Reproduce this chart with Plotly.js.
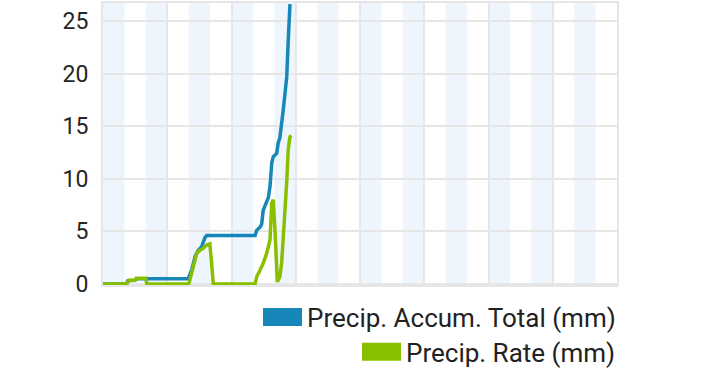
<!DOCTYPE html>
<html>
<head>
<meta charset="utf-8">
<script src="https://cdn.plot.ly/plotly-3.0.1.min.js"></script>
<style>
  html, body { margin: 0; padding: 0; background: #ffffff; }
  #chart { width: 720px; height: 368px; }
</style>
</head>
<body>
<div id="chart"></div>
<script>
// ---- data (hours of the day, mm) ----
var accumHours = [0, 1.1, 1.15, 1.5, 1.6, 3.98, 4.14, 4.3, 4.45, 4.6, 4.76, 4.84, 7.1, 7.18, 7.33, 7.41, 7.48, 7.64, 7.72, 7.8, 7.88, 7.95, 8.11, 8.18, 8.26, 8.42, 8.58, 8.65, 8.73];
var accumTotal = [0, 0, 0.3, 0.35, 0.5, 0.5, 1.3, 2.6, 3.2, 3.5, 4.4, 4.6, 4.6, 5.1, 5.4, 5.7, 7.0, 7.7, 8.2, 9.3, 11.5, 12.1, 12.4, 13.4, 13.9, 16.6, 19.7, 23.2, 26.6];

var rateHours = [0, 1.1, 1.2, 1.5, 1.55, 2.0, 2.04, 4.0, 4.06, 4.22, 4.38, 4.53, 4.69, 4.84, 4.99, 5.07, 5.15, 7.1, 7.18, 7.33, 7.48, 7.64, 7.8, 7.88, 7.95, 8.03, 8.11, 8.14, 8.26, 8.34, 8.42, 8.5, 8.58, 8.65, 8.73, 8.8];
var precipRate = [0, 0, 0.35, 0.35, 0.55, 0.55, 0, 0, 0.4, 1.65, 2.95, 3.2, 3.4, 3.7, 3.8, 2.0, 0, 0, 0.7, 1.3, 1.95, 2.9, 4.2, 7.7, 8.0, 5.1, 2.0, 0.2, 0.7, 2.0, 4.5, 6.7, 9.8, 12.8, 14.0, 14.1];

var seriesNames = ["Precip. Accum. Total (mm)", "Precip. Rate (mm)"];
var yTicks = [0, 5, 10, 15, 20, 25];
var xGridHours = [0, 3, 6, 9, 12, 15, 18, 21, 24];
var bandStarts = [0, 2, 4, 6, 8, 10, 12, 14, 16, 18, 20, 22];
var bandLength = 1;

var blue = "#1786b8";
var green = "#88c000";

var shapes = bandStarts.map(function (s) {
  return {
    type: "rect", xref: "x", yref: "paper", layer: "below",
    x0: s, x1: s + bandLength, y0: 0, y1: 1,
    fillcolor: "#eef5fc", line: { width: 0 }
  };
});

var traces = [
  {
    x: accumHours, y: accumTotal, type: "scatter", mode: "lines",
    name: seriesNames[0], legend: "legend",
    line: { color: blue, width: 3.5 }
  },
  {
    x: rateHours, y: precipRate, type: "scatter", mode: "lines",
    name: seriesNames[1], legend: "legend2",
    line: { color: green, width: 3.5 }
  }
];

var legendFont = { family: "Roboto, sans-serif", size: 26, color: "#222222" };

var layout = {
  width: 720, height: 368,
  margin: { l: 103, r: 103, t: 3, b: 83, autoexpand: false },
  paper_bgcolor: "#ffffff",
  plot_bgcolor: "rgba(0,0,0,0)",
  font: { family: "Roboto, sans-serif", color: "#333333" },
  showlegend: true,
  xaxis: {
    range: [0, 24],
    tickvals: xGridHours,
    showticklabels: false,
    showgrid: true, gridcolor: "#e6e6e6", gridwidth: 2,
    zeroline: false,
    showline: true, mirror: true, linecolor: "#e6e6e6", linewidth: 2,
    ticks: ""
  },
  yaxis: {
    range: [-0.1, 26.7],
    tickvals: yTicks,
    ticktext: yTicks.map(String),
    tickfont: { family: "Roboto, sans-serif", size: 23, color: "#262626" },
    showgrid: true, gridcolor: "#e6e6e6", gridwidth: 2,
    zeroline: false,
    showline: true, mirror: true, linecolor: "#e6e6e6", linewidth: 2,
    ticks: "", ticklabelstandoff: 8
  },
  shapes: shapes,
  legend: {
    x: 1.0078, xanchor: "right", y: -0.1135, yanchor: "middle",
    bgcolor: "rgba(0,0,0,0)", font: legendFont, itemwidth: 39
  },
  legend2: {
    x: 1.0078, xanchor: "right", y: -0.2369, yanchor: "middle",
    bgcolor: "rgba(0,0,0,0)", font: legendFont, itemwidth: 39
  }
};

var gd = document.getElementById("chart");
function thickenLegend() {
  gd.querySelectorAll(".legendlines path").forEach(function (p) {
    p.style.strokeWidth = "18px";
  });
}
Plotly.newPlot(gd, traces, layout, { displayModeBar: false, staticPlot: true }).then(function () {
  thickenLegend();
  gd.on("plotly_afterplot", thickenLegend);
});
</script>
</body>
</html>
